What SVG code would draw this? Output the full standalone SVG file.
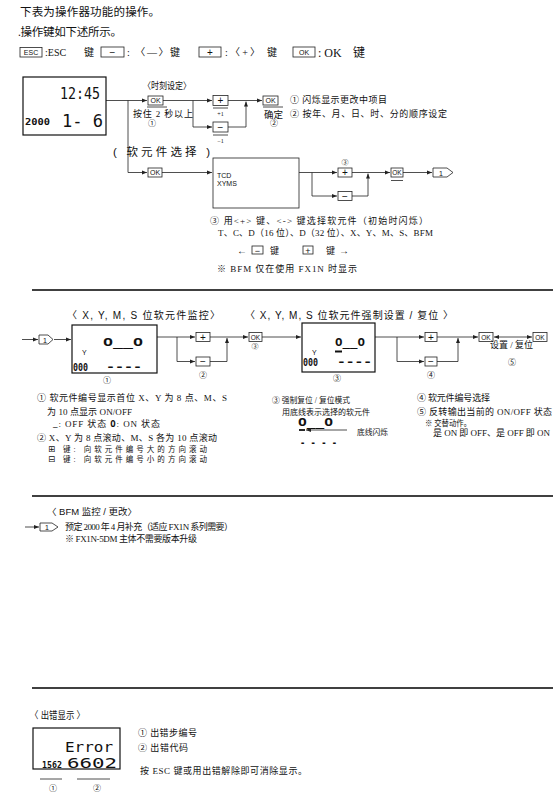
<svg xmlns="http://www.w3.org/2000/svg" width="559" height="798" viewBox="0 0 559 798">
<style>
.t{font-family:"Liberation Serif","Noto Sans CJK SC",serif;fill:#111}
.s{font-family:"Liberation Sans","Noto Sans CJK SC",sans-serif;fill:#111}
.k{fill:#fff;stroke:#222;stroke-width:0.8}
.kt{font-family:"Liberation Sans",sans-serif;text-anchor:middle;fill:#111}
.c{fill:none;stroke:#222;stroke-width:0.8}
.a{marker-end:url(#ah)}
.lcd{fill:#fff;stroke:#111;stroke-width:1.2}
.seg{font-family:"DejaVu Sans Mono",monospace;fill:#111}
.sep{stroke:#000;stroke-width:1.5}
.m{text-anchor:middle}
.ul{stroke:#222;stroke-width:0.8}
</style>
<defs>
<marker id="ah" viewBox="0 0 10 10" refX="10" refY="5" markerWidth="5" markerHeight="5" markerUnits="userSpaceOnUse" orient="auto-start-reverse"><path d="M0,1 L10,5 L0,9 z" fill="#222"/></marker>
</defs>
<rect width="559" height="798" fill="#fff"/>

<g id="header">
<text class="t" x="20" y="16" font-size="11.5" textLength="140" lengthAdjust="spacing">下表为操作器功能的操作。</text>
<text class="t" x="18" y="36" font-size="11.5" textLength="104" lengthAdjust="spacing">.操作键如下述所示。</text>
<rect class="k" x="20" y="47.5" width="22" height="9.5"/><text class="kt" x="31" y="55" font-size="7">ESC</text>
<text class="t" x="45" y="56" font-size="10">:ESC</text><text class="t" x="84" y="56" font-size="10">键</text>
<rect class="k" x="101" y="47" width="23" height="10"/><text class="kt" x="112.5" y="55.5" font-size="10">−</text>
<text class="t" x="127" y="56" font-size="10" textLength="53" lengthAdjust="spacing">: 〈—〉键</text>
<rect class="k" x="199" y="47" width="22" height="10"/><text class="kt" x="210" y="55.5" font-size="10">+</text>
<text class="t" x="225" y="56" font-size="10" textLength="52" lengthAdjust="spacing">:〈+〉 键</text>
<rect class="k" x="293" y="47" width="22" height="10"/><text class="kt" x="304" y="55" font-size="7">OK</text>
<text class="t" x="318" y="57" font-size="12">: OK</text><text class="t" x="353" y="57" font-size="12">键</text>
</g>

<g id="connectors">
<path class="c a" d="M106,100.5 H147"/>
<path class="c a" d="M128,100.5 V172.5 H147"/>
<path class="c a" d="M163,100.5 H212"/>
<path class="c a" d="M193,100.5 V127 H212"/>
<path class="c a" d="M228,100.5 H262"/>
<path class="c a" d="M228,127 H246 V101.5"/>
<path class="c a" d="M162,172.5 H212"/>
<path class="c a" d="M299,172.5 H337"/>
<path class="c a" d="M312,172.5 V196 H337"/>
<path class="c a" d="M352,172.5 H390"/>
<path class="c a" d="M352,196 H368 V173.5"/>
<path class="c a" d="M403,172.5 H432"/>
<path class="c a" d="M22,339.5 H38"/>
<path class="c a" d="M54,339.5 H71"/>
<path class="c a" d="M157,337 H195"/>
<path class="c a" d="M177,337 V361.5 H195"/>
<path class="c a" d="M210,337 H248"/>
<path class="c a" d="M210,361.5 H227 V338"/>
<path class="c a" d="M262,337 H301"/>
<path class="c a" d="M375,337 H424"/>
<path class="c a" d="M397,337 V361.5 H424"/>
<path class="c a" d="M437,337 H478"/>
<path class="c a" d="M437,361.5 H458 V338"/>
<path class="c a" d="M494,337 H532" marker-start="url(#ah)"/>
<path class="c a" d="M25,527 H39"/>
</g>

<g id="lcd-clock">
<rect class="lcd" x="23" y="77" width="83" height="58"/>
<text class="seg" x="60" y="99" font-size="15" textLength="40" lengthAdjust="spacingAndGlyphs">12:45</text>
<text class="seg" x="25" y="125" font-size="9.5" font-weight="bold" textLength="25" lengthAdjust="spacingAndGlyphs">2000</text>
<text class="seg" x="62" y="127" font-size="17" textLength="41" lengthAdjust="spacingAndGlyphs">1- 6</text>
</g>

<g id="time-set">
<text class="t" x="143" y="89" font-size="9.5" textLength="48" lengthAdjust="spacingAndGlyphs">〈时刻设定〉</text>
<rect class="k" x="148" y="96" width="15" height="9"/><text class="kt" x="155.5" y="103" font-size="7">OK</text>
<line class="ul" x1="147" y1="107" x2="167" y2="107"/>
<text class="t" x="133" y="117" font-size="9" textLength="60" lengthAdjust="spacing">按住 2 秒以上</text>
<text class="t m" x="152" y="126" font-size="8">①</text>
</g>
<g id="key-plus1">
<rect class="k" x="213" y="95.5" width="15" height="10"/><text class="kt" x="220.5" y="104" font-size="10">+</text>
<line class="ul" x1="213" y1="108" x2="228" y2="108"/>
<text class="t m" x="220.5" y="116" font-size="6">+1</text>
</g>
<g id="key-minus1">
<rect class="k" x="213" y="122" width="15" height="10"/><text class="kt" x="220.5" y="130.5" font-size="10">−</text>
<line class="ul" x1="213" y1="135" x2="228" y2="135"/>
<text class="t m" x="220.5" y="143" font-size="6">−1</text>
</g>
<g id="time-ok">
<rect class="k" x="263" y="96" width="15" height="9"/><text class="kt" x="270.5" y="103" font-size="7">OK</text>
<line class="ul" x1="263" y1="107" x2="283" y2="107"/>
<text class="t" x="264" y="118" font-size="9.5">确定</text>
<text class="t m" x="274" y="126" font-size="8">②</text>
</g>
<g id="time-notes">
<text class="t" x="290" y="102.5" font-size="9" textLength="97" lengthAdjust="spacing">① 闪烁显示更改中项目</text>
<text class="t" x="290" y="116.5" font-size="9" textLength="157" lengthAdjust="spacing">② 按年、月、日、时、分的顺序设定</text>
</g>

<g id="soft-select">
<text class="s" x="113" y="156" font-size="11.5" textLength="97" lengthAdjust="spacing">( 软元件选择 )</text>
<rect class="k" x="148" y="168" width="14" height="9"/><text class="kt" x="155" y="175" font-size="7">OK</text>
</g>
<g id="soft-box">
<rect class="k" x="213" y="158" width="86" height="50" stroke-width="1"/>
<text class="s" x="217" y="178" font-size="7">TCD</text>
<text class="s" x="217" y="186" font-size="7">XYMS</text>
</g>
<g id="soft-plus">
<text class="t m" x="345" y="165" font-size="7">③</text>
<rect class="k" x="338" y="168" width="14" height="9"/><text class="kt" x="345" y="176" font-size="10">+</text>
</g>
<g id="soft-minus">
<rect class="k" x="338" y="191.5" width="14" height="9"/><text class="kt" x="345" y="199.5" font-size="10">−</text>
</g>
<g id="soft-ok">
<rect class="k" x="391" y="168" width="12" height="9"/><text class="kt" x="397" y="175" font-size="6.5">OK</text>
<line class="ul" x1="391" y1="180.5" x2="403" y2="180.5" stroke-width="1.2"/>
</g>
<g id="ref1-a">
<path class="k" d="M433,168 H447 L453,172.5 L447,177 H433 Z"/><text class="kt" x="441" y="175.5" font-size="7">1</text>
</g>
<g id="soft-notes">
<text class="t" x="210" y="223.5" font-size="9" textLength="218" lengthAdjust="spacing">③ 用&lt;+&gt; 键、&lt;-&gt; 键选择软元件（初始时闪烁）</text>
<text class="t" x="218" y="235.5" font-size="9" textLength="215" lengthAdjust="spacing">T、C、D（16 位）、D（32 位）、X、Y、M、S、BFM</text>
<text class="t" x="237" y="253.5" font-size="10">←</text>
<rect class="k" x="252" y="246" width="11" height="8"/><text class="kt" x="257.5" y="253.5" font-size="9">−</text>
<text class="t" x="270" y="253.5" font-size="9">键</text>
<rect class="k" x="303" y="246" width="10" height="8"/><text class="kt" x="308" y="253.5" font-size="9">+</text>
<text class="t" x="326" y="253.5" font-size="9">键</text>
<text class="t" x="339" y="253.5" font-size="10">→</text>
<text class="t" x="217" y="271.5" font-size="9" textLength="140" lengthAdjust="spacing">※ BFM 仅在使用 FX1N 时显示</text>
</g>

<line class="sep" x1="32" y1="290" x2="553" y2="290"/>

<g id="monitor">
<text class="s" x="67" y="318.5" font-size="10" textLength="153" lengthAdjust="spacing">〈 X, Y, M, S 位软元件监控〉</text>
<path class="k" d="M39,335 H48 L53,339.5 L48,344 H39 Z"/><text class="kt" x="45" y="342.5" font-size="7">1</text>
</g>
<g id="monitor-lcd">
<rect class="lcd" x="72" y="325" width="85" height="48"/>
<text class="seg" x="103" y="346" font-size="11" font-weight="bold" textLength="40" lengthAdjust="spacingAndGlyphs">O__O</text>
<text class="s" x="82" y="355" font-size="7">Y</text>
<text class="seg" x="73" y="371" font-size="10" font-weight="bold" textLength="15" lengthAdjust="spacingAndGlyphs">000</text>
<text class="seg" x="106" y="370" font-size="11" font-weight="bold" textLength="36" lengthAdjust="spacingAndGlyphs">----</text>
<text class="t m" x="107" y="383" font-size="8">①</text>
</g>
<g id="mon-plus">
<rect class="k" x="196" y="332.5" width="14" height="9"/><text class="kt" x="203" y="340.5" font-size="10">+</text>
</g>
<g id="mon-minus">
<rect class="k" x="196" y="357" width="14" height="9"/><text class="kt" x="203" y="365" font-size="10">−</text>
<text class="t m" x="203" y="378" font-size="8">②</text>
</g>
<g id="force-ok">
<text class="s" x="245" y="318.5" font-size="10" textLength="208" lengthAdjust="spacing">〈 X, Y, M, S 位软元件强制设置 / 复位      〉</text>
<rect class="k" x="249" y="332.5" width="13" height="9"/><text class="kt" x="255.5" y="339.5" font-size="6.5">OK</text>
<text class="t m" x="255" y="349" font-size="7">③</text>
</g>
<g id="force-lcd">
<rect class="lcd" x="302" y="323" width="73" height="49"/>
<text class="seg" x="335" y="346" font-size="11" font-weight="bold" textLength="30" lengthAdjust="spacingAndGlyphs">O__O</text>
<line x1="335" y1="351.5" x2="342" y2="351.5" stroke="#111" stroke-width="2"/>
<text class="s" x="312" y="355" font-size="7">Y</text>
<text class="seg" x="303" y="366" font-size="10" font-weight="bold" textLength="15" lengthAdjust="spacingAndGlyphs">000</text>
<text class="seg" x="337" y="365" font-size="11" font-weight="bold" textLength="35" lengthAdjust="spacingAndGlyphs">----</text>
<text class="t m" x="337" y="381" font-size="8">③</text>
</g>
<g id="force-plus">
<rect class="k" x="425" y="332.5" width="12" height="9"/><text class="kt" x="431" y="340.5" font-size="10">+</text>
</g>
<g id="force-minus">
<rect class="k" x="425" y="357" width="12" height="9"/><text class="kt" x="431" y="365" font-size="10">−</text>
<text class="t m" x="431" y="378" font-size="8">④</text>
</g>
<g id="force-ok2">
<rect class="k" x="479" y="332.5" width="14" height="9"/><text class="kt" x="486" y="339.5" font-size="6.5">OK</text>
<text class="t" x="490" y="347.5" font-size="9" textLength="43" lengthAdjust="spacing">设置 / 复位</text>
<text class="t m" x="512" y="365" font-size="8">⑤</text>
</g>
<g id="force-ok3">
<rect class="k" x="533" y="332.5" width="14" height="9"/><text class="kt" x="540" y="339.5" font-size="6.5">OK</text>
</g>

<g id="monitor-notes">
<text class="t" x="37" y="401" font-size="9" textLength="190" lengthAdjust="spacing">① 软元件编号显示首位 X、Y 为 8 点、M、S</text>
<text class="t" x="47" y="415" font-size="9" textLength="85" lengthAdjust="spacing">为 10 点显示 ON/OFF</text>
<text class="t" x="53" y="427" font-size="9" textLength="107" lengthAdjust="spacing"><tspan font-weight="bold">_</tspan>: OFF 状态 <tspan font-weight="bold" font-family="DejaVu Sans Mono">O</tspan>: ON 状态</text>
<text class="t" x="37" y="441" font-size="9" textLength="180" lengthAdjust="spacing">② X、Y 为 8 点滚动、M、S 各为 10 点滚动</text>
<text class="t" x="48" y="452" font-size="7.5" textLength="159" lengthAdjust="spacing"><tspan font-family="DejaVu Sans" font-size="8.5">⊞</tspan> 键:  向软元件编号大的方向滚动</text>
<text class="t" x="48" y="462" font-size="7.5" textLength="159" lengthAdjust="spacing"><tspan font-family="DejaVu Sans" font-size="8.5">⊟</tspan> 键:  向软元件编号小的方向滚动</text>
</g>
<g id="force-notes">
<text class="t" x="272" y="403" font-size="8.5" textLength="78" lengthAdjust="spacingAndGlyphs">③ 强制复位 / 复位模式</text>
<text class="t" x="282" y="415" font-size="8" textLength="88" lengthAdjust="spacing">用底线表示选择的软元件</text>
<text class="seg" x="298" y="426" font-size="10" font-weight="bold" textLength="35" lengthAdjust="spacingAndGlyphs">O__O</text>
<line x1="299" y1="430" x2="305" y2="430" stroke="#111" stroke-width="1.8"/>
<path class="c a" d="M347,430 H306"/>
<text class="t" x="357" y="435" font-size="8" textLength="31" lengthAdjust="spacingAndGlyphs">底线闪烁</text>
<text class="seg" x="300" y="446" font-size="10" font-weight="bold" textLength="37" lengthAdjust="spacingAndGlyphs">- - - -</text>
<text class="t" x="417" y="401" font-size="9" textLength="73" lengthAdjust="spacing">④ 软元件编号选择</text>
<text class="t" x="417" y="415" font-size="9" textLength="135" lengthAdjust="spacing">⑤ 反转输出当前的 ON/OFF 状态</text>
<text class="t" x="425" y="425.5" font-size="8.5" textLength="46" lengthAdjust="spacingAndGlyphs">※ 交替动作。</text>
<text class="t" x="433" y="435.5" font-size="9" textLength="117" lengthAdjust="spacing">是 ON 即 OFF、是 OFF 即 ON</text>
</g>

<line class="sep" x1="32" y1="496" x2="553" y2="496"/>

<g id="bfm">
<text class="s" x="47" y="515" font-size="9" textLength="90" lengthAdjust="spacingAndGlyphs">〈 BFM 监控 / 更改〉</text>
<path class="k" d="M40,523 H52 L58,527 L52,531 H40 Z"/><text class="kt" x="47" y="530" font-size="7">1</text>
<text class="t" x="65" y="530" font-size="9" textLength="168" lengthAdjust="spacing">预定 2000 年 4 月补充（适应 FX1N 系列需要）</text>
<text class="t" x="65" y="541.5" font-size="9" textLength="132" lengthAdjust="spacing">※ FX1N-5DM 主体不需要版本升级</text>
</g>

<line class="sep" x1="32" y1="688" x2="553" y2="688"/>

<g id="error">
<text class="s" x="30" y="718.5" font-size="10" textLength="55" lengthAdjust="spacingAndGlyphs">〈 出错显示 〉</text>
<rect class="lcd" x="33" y="728" width="87" height="41"/>
<text class="seg" x="65" y="752" font-size="13.5" textLength="48" lengthAdjust="spacingAndGlyphs">Error</text>
<text class="seg" x="42" y="768" font-size="9" font-weight="bold" textLength="20" lengthAdjust="spacingAndGlyphs">1562</text>
<text class="seg" x="67" y="768" font-size="13.5" textLength="50" lengthAdjust="spacingAndGlyphs">6602</text>
<line class="ul" x1="40" y1="779" x2="62" y2="779"/>
<line class="ul" x1="77" y1="779" x2="110" y2="779"/>
<text class="t m" x="53" y="791" font-size="8">①</text>
<text class="t m" x="97" y="791" font-size="8">②</text>
<text class="t" x="138" y="736" font-size="9" textLength="59" lengthAdjust="spacing">① 出错步编号</text>
<text class="t" x="138" y="751" font-size="9" textLength="50" lengthAdjust="spacing">② 出错代码</text>
<text class="t" x="140" y="774" font-size="9" textLength="167" lengthAdjust="spacing">按 ESC 键或用出错解除即可消除显示。</text>
</g>
</svg>
